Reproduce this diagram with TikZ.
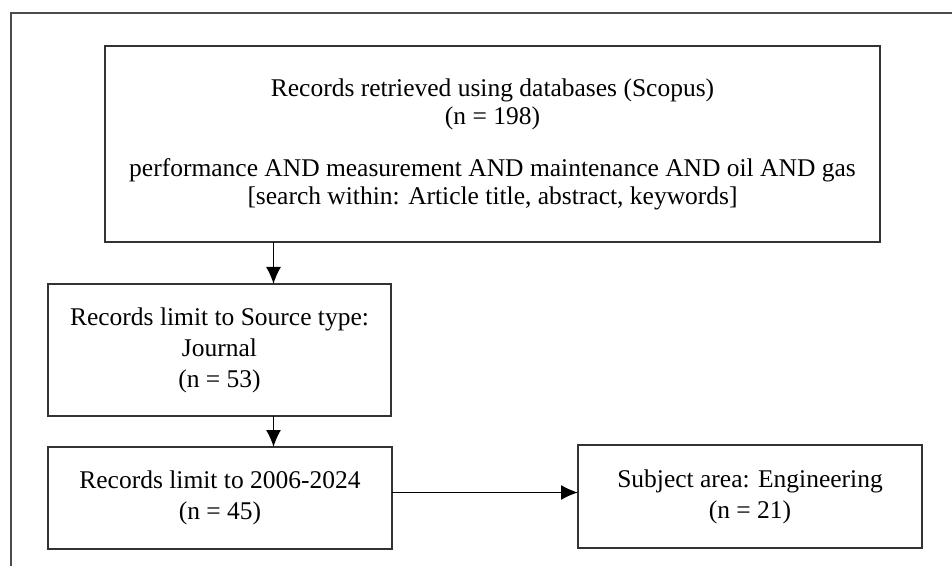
\documentclass[tikz,border=0pt]{standalone}
\usepackage{fontspec}
\setmainfont{Liberation Serif}
\usepackage{tikz}
\usetikzlibrary{arrows.meta}

\tikzset{
  rec/.style={draw=black!80,line width=1pt,inner sep=0pt,outer sep=0pt,align=center,
    font=\fontsize{12.75}{15.5}\selectfont},
  arr/.style={draw=black,line width=0.75pt,-{Latex[length=8.5pt,width=7.5pt]}}
}

\begin{document}
\begin{tikzpicture}[x=0.5pt,y=-0.5pt]
  \useasboundingbox (0,0) rectangle (952,566);
  % frame round the figure
  \draw[black!70,line width=1pt] (952,13) -- (11,13) -- (11,566);

  \node[rec,minimum width=387.5pt,minimum height=98pt,
        font=\fontsize{12.75}{14}\selectfont] (retrieved) at (492.5,144)
    {Records retrieved using databases (Scopus)\\(n = 198)\\[12pt]
     performance AND measurement AND maintenance AND oil AND gas\\
     {[}search within: Article title, abstract, keywords]};
  \node[rec,minimum width=171.5pt,minimum height=66pt] (journal) at (219.5,350)
    {Records limit to Source type:\\Journal\\(n = 53)};
  \node[rec,minimum width=172pt,minimum height=51pt] (years) at (220,498)
    {Records limit to 2006-2024\\(n = 45)};
  \node[rec,minimum width=172pt,minimum height=51.5pt] (subject) at (750,496.5)
    {Subject area: Engineering\\(n = 21)};

  \coordinate (down) at (273.5,0);
  \coordinate (side) at (0,492.5);
  \draw[arr] (retrieved.south -| down) -- (journal.north -| down);
  \draw[arr] (journal.south -| down) -- (years.north -| down);
  \draw[arr] (years.east |- side) -- (subject.west |- side);
\end{tikzpicture}
\end{document}
